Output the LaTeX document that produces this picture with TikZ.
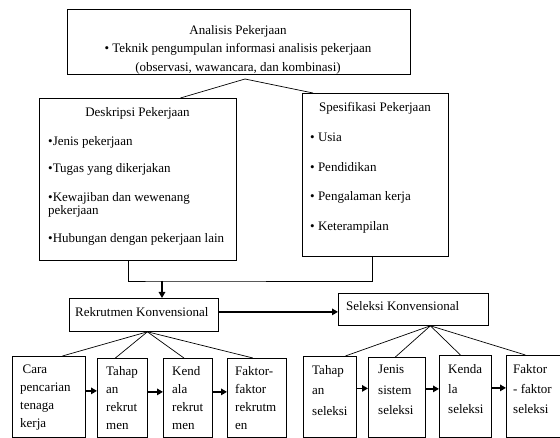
\documentclass[tikz,border=0pt]{standalone}
\usepackage{fontspec}
\setmainfont{Liberation Serif}
\usetikzlibrary{arrows.meta, calc}
\tikzset{
  box/.style={rectangle, draw, line width=0.8pt, inner sep=0pt, anchor=north west},
  txt/.style={inner sep=0pt, font=\fontsize{13}{16}\selectfont},
  celltxt/.style={txt, align=left, anchor=north west, font=\fontsize{13}{18}\selectfont},
  fan/.style={line width=0.7pt},
  arrow/.style={-{Triangle[length=6pt, width=6.5pt]}, line width=1.4pt},
  line/.style={line width=0.9pt}
}

\begin{document}
\begin{tikzpicture}[x=1pt, y=-1pt]
  \useasboundingbox (0,0) rectangle (560,438);
  \clip (0,0) rectangle (560,438);

  % Analisis pekerjaan
  \node[box, minimum width=343pt, minimum height=65pt] (ana) at (67,9) {};
  \node[txt, align=center, anchor=north, font=\fontsize{13}{18.5}\selectfont] (anatxt) at (238,25)
    {Analisis Pekerjaan\\• Teknik pengumpulan informasi analisis pekerjaan\\(observasi, wawancara, dan kombinasi)};

  % Deskripsi dan spesifikasi
  \node[box, minimum width=197pt, minimum height=162pt] (desk) at (39,98) {};
  \node[txt, anchor=base] (desktitle) at (137.5,117) {Deskripsi Pekerjaan};
  \node[txt, align=left, anchor=north west, font=\fontsize{13}{13}\selectfont] (desktxt) at (48,136)
    {•Jenis pekerjaan\\[14pt]•Tugas yang dikerjakan\\[16pt]•Kewajiban dan wewenang\\pekerjaan\\[15pt]•Hubungan dengan pekerjaan lain};

  \node[box, minimum width=146pt, minimum height=163pt] (spec) at (302,93) {};
  \node[txt, anchor=base] (spectitle) at (375,112) {Spesifikasi Pekerjaan};
  \node[txt, align=left, anchor=north west, font=\fontsize{13}{29.5}\selectfont] (spectxt) at (310,133)
    {• Usia\\• Pendidikan\\• Pengalaman kerja\\• Keterampilan};

  \coordinate (anafan) at (245,79);
  \draw[fan] (anafan) -- ([xshift=42.5pt]desk.north);
  \draw[fan] (anafan) -- ([xshift=11pt]spec.north west);

  % Rekrutmen dan seleksi
  \node[box, minimum width=149pt, minimum height=33pt] (rek) at (69,298) {};
  \node[txt, anchor=base west] (rektxt) at (75,317) {Rekrutmen Konvensional};
  \node[box, minimum width=150pt, minimum height=32pt] (sel) at (338,293) {};
  \node[txt, anchor=base west] (seltxt) at (346,311) {Seleksi Konvensional};

  \coordinate (join) at (162,281);
  \draw[line] ([xshift=-9.5pt]desk.south) |- (join) -| ([xshift=-3pt]spec.south);
  \draw[arrow] (join) -- (join |- rek.north);
  \draw[arrow] ([yshift=3pt]rek.east) -- ([yshift=3pt]rek.east -| sel.west);

  % Tahapan rekrutmen
  \node[box, minimum width=73pt, minimum height=81pt] (r1) at (12,356) {};
  \node[box, minimum width=50pt, minimum height=79pt] (r2) at (97,358) {};
  \node[box, minimum width=49pt, minimum height=79pt] (r3) at (163,358) {};
  \node[box, minimum width=59pt, minimum height=79pt] (r4) at (227,358) {};
  \node[celltxt] (r1txt) at (20,365) {\hspace*{2.5pt}Cara\\pencarian\\tenaga\\kerja};
  \node[celltxt] (r2txt) at (106,366) {Tahap\\an\\rekrut\\men};
  \node[celltxt] (r3txt) at (172,366) {Kend\\ala\\rekrut\\men};
  \node[celltxt] (r4txt) at (235,366) {Faktor-\\faktor\\rekrutm\\en};

  \coordinate (rekfan) at ([xshift=3.5pt]rek.south);
  \foreach \n/\dx in {r1/13.5, r2/-7, r3/-4, r4/-4}
    \draw[fan] (rekfan) -- ([xshift=\dx pt]\n.north);
  \foreach \a/\b in {r1/r2, r2/r3, r3/r4}
    \draw[arrow] ([yshift=6pt]\a.east) -- ([yshift=6pt]\a.east -| \b.west);

  % Tahapan seleksi
  \node[box, minimum width=53pt, minimum height=81pt] (s1) at (303,356) {};
  \node[box, minimum width=57pt, minimum height=80pt] (s2) at (368,357) {};
  \node[box, minimum width=52pt, minimum height=82pt] (s3) at (439,355) {};
  \node[box, minimum width=60pt, minimum height=82pt] (s4) at (506,355) {};
  \node[celltxt, font=\fontsize{13}{20.5}\selectfont] (s1txt) at (312,365) {Tahap\\an\\seleksi};
  \node[celltxt, font=\fontsize{13}{20.5}\selectfont] (s2txt) at (378,365) {Jenis\\sistem\\seleksi};
  \node[celltxt, font=\fontsize{13}{20}\selectfont] (s3txt) at (448,364) {Kenda\\la\\seleksi};
  \node[celltxt, font=\fontsize{13}{20}\selectfont] (s4txt) at (513,364) {Faktor\\- faktor\\seleksi};

  \coordinate (selfan) at ([xshift=17pt]sel.south);
  \foreach \n/\dx in {s1/15.5, s2/-1.5, s3/-5, s4/-11}
    \draw[fan] (selfan) -- ([xshift=\dx pt]\n.north);
  \foreach \a/\b in {s1/s2, s2/s3, s3/s4}
    \draw[arrow] ([yshift=8.5pt]\a.east) -- ([yshift=8.5pt]\a.east -| \b.west);
\end{tikzpicture}
\end{document}
